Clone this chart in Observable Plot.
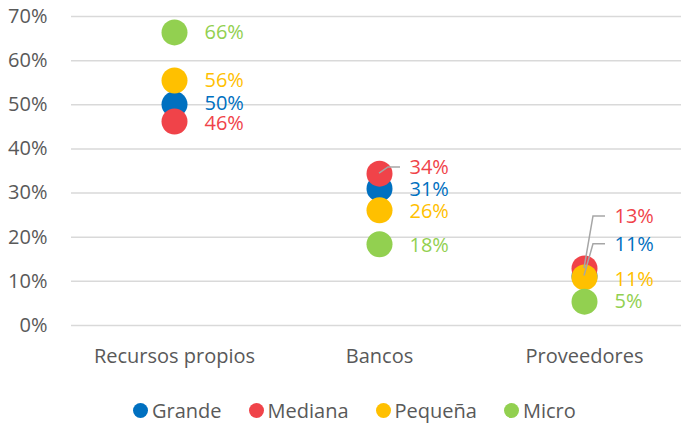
<!DOCTYPE html>
<html>
<head>
<meta charset="utf-8">
<script src="https://cdn.jsdelivr.net/npm/d3@7"></script>
<script src="https://cdn.jsdelivr.net/npm/@observablehq/plot@0.6"></script>
<style>
  body { margin: 0; background: #fff; font-family: "Open Sans", sans-serif; }
  #legend { position: relative; height: 40px; display: flex; align-items: center; padding-left: 133px; font-size: 20px; color: #595959; }
  .item { display: flex; align-items: center; margin-right: 27px; }
  .sw { width: 15px; height: 15px; border-radius: 50%; margin-right: 4px; }
</style>
</head>
<body>
<div id="chart"></div>
<div id="legend"></div>
<script>
// Data
const categories = ["Recursos propios", "Bancos", "Proveedores"];
const series = ["Grande", "Mediana", "Pequeña", "Micro"];
const grande  = [50.1, 31.0, 11.2];
const mediana = [46.2, 34.4, 12.9];
const pequena = [55.5, 26.1, 10.9];
const micro   = [66.4, 18.4, 5.4];
const yTicks = [0, 10, 20, 30, 40, 50, 60, 70];

// Layout: where each value label sits (in axis units) and which ones get a leader line
const labelAtGrande  = [50.3, 30.8, 18.4];
const labelAtMediana = [45.8, 35.8, 24.7];
const labelAtPequena = [55.5, 25.8, 10.4];
const labelAtMicro   = [66.4, 18.1, 5.4];
const leaders = [["Mediana", "Bancos"], ["Mediana", "Proveedores"], ["Grande", "Proveedores"]];

const colors = ["#0070C0", "#F04349", "#FFC000", "#92D050"];
const valuesBySeries = [grande, mediana, pequena, micro];
const labelsBySeries = [labelAtGrande, labelAtMediana, labelAtPequena, labelAtMicro];

const data = [];
series.forEach((s, si) => categories.forEach((c, ci) => {
  data.push({series: s, category: c, value: valuesBySeries[si][ci], labelAt: labelsBySeries[si][ci]});
}));

const plot = Plot.plot({
  width: 681,
  height: 390,
  marginTop: 16,
  marginBottom: 65,
  marginLeft: 71,
  marginRight: 0,
  style: {fontFamily: "Open Sans, sans-serif", fontSize: "20px", color: "#595959", background: "#fff"},
  x: {type: "point", domain: categories, range: [71, 687], padding: 0.5, label: null},
  y: {domain: [0, 70], label: null},
  color: {domain: series, range: colors},
  marks: [
    Plot.ruleY(yTicks, {stroke: "#d9d9d9", strokeWidth: 1.5}),
    Plot.axisY({ticks: yTicks, tickFormat: d => d + "%", tickSize: 0, tickPadding: 24, fill: "#595959", fontSize: 20}),
    Plot.axisX({tickSize: 0, tickPadding: 23, fill: "#595959", fontSize: 20}),
    Plot.dot(data, {x: "category", y: "value", r: 13, fill: "series"}),
    Plot.text(data, {x: "category", y: "labelAt", text: d => Math.round(d.value) + "%", fill: "series", dx: 30, textAnchor: "start", fontSize: 20})
  ]
});
document.getElementById("chart").appendChild(plot);

// Leader lines drawn through the plot's own scales
const xs = plot.scale("x"), ys = plot.scale("y");
const svg = d3.select(plot);
leaders.forEach(([s, c]) => {
  const d = data.find(e => e.series === s && e.category === c);
  const x0 = xs.apply(c), y0 = ys.apply(d.value), y1 = ys.apply(d.labelAt);
  svg.append("path")
    .attr("d", `M${x0},${y0}L${x0 + 9},${y1}L${x0 + 21},${y1}`)
    .attr("fill", "none").attr("stroke", "#a6a6a6").attr("stroke-width", 1.5);
});

// Legend
const legend = document.getElementById("legend");
series.forEach((s, i) => {
  const it = document.createElement("div");
  it.className = "item";
  it.innerHTML = `<span class="sw" style="background:${colors[i]}"></span><span>${s}</span>`;
  legend.appendChild(it);
});
</script>
</body>
</html>
